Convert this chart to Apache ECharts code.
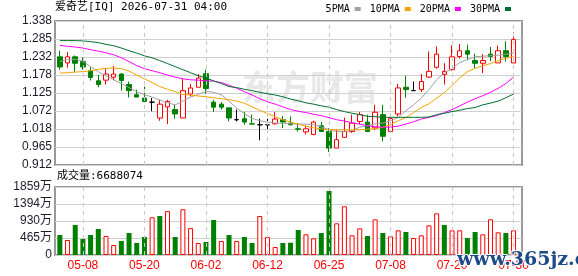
<!DOCTYPE html>
<html><head><meta charset="utf-8">
<script src="https://cdn.jsdelivr.net/npm/echarts@6/dist/echarts.min.js"></script>
<style>html,body{margin:0;padding:0;background:#fff}#c{width:578px;height:276px}</style>
</head><body><div id="c"></div>
<script>
const categories = ['05-05','05-06','05-07','05-08','05-11','05-12','05-13','05-14','05-15','05-18',
'05-19','05-20','05-21','05-22','05-26','05-27','05-28','05-29','06-01','06-02',
'06-03','06-04','06-05','06-08','06-09','06-10','06-11','06-12','06-15','06-16',
'06-17','06-18','06-22','06-23','06-24','06-25','06-26','06-29','06-30','07-01',
'07-02','07-06','07-07','07-08','07-09','07-10','07-13','07-14','07-15','07-16',
'07-17','07-20','07-21','07-22','07-23','07-24','07-27','07-28','07-29','07-30'];
const opens = [1.232,1.214,1.232,1.218,1.191,1.161,1.163,1.172,1.181,1.150,
1.120,1.110,1.098,1.051,1.084,1.076,1.051,1.122,1.142,1.182,
1.098,1.092,1.081,1.046,1.049,1.034,1.031,1.031,1.034,1.046,
1.036,1.019,1.010,1.002,1.028,1.011,0.962,0.994,1.011,1.041,
1.039,1.022,1.061,1.011,1.063,1.142,1.132,1.135,1.172,1.201,
1.180,1.194,1.233,1.250,1.221,1.213,1.240,1.214,1.250,1.214];
const closes = [1.202,1.232,1.213,1.202,1.171,1.150,1.181,1.181,1.162,1.132,
1.113,1.100,1.098,1.092,1.100,1.063,1.132,1.140,1.169,1.138,
1.083,1.083,1.051,1.046,1.039,1.033,1.031,1.031,1.048,1.039,
1.031,1.018,1.019,1.039,1.011,0.962,0.987,1.011,1.036,1.061,
1.011,1.068,0.997,1.049,1.140,1.135,1.132,1.159,1.189,1.240,
1.189,1.232,1.250,1.240,1.213,1.221,1.233,1.250,1.233,1.283];
const lows = [1.194,1.200,1.186,1.194,1.162,1.142,1.150,1.163,1.132,1.112,
1.113,1.098,1.071,1.043,1.033,1.049,1.051,1.115,1.142,1.123,
1.069,1.076,1.041,1.041,1.031,1.033,0.985,1.012,1.031,1.021,
1.029,1.011,1.002,1.000,1.011,0.950,0.962,0.992,1.007,1.033,
1.011,1.016,0.982,1.011,1.056,1.111,1.132,1.128,1.169,1.197,
1.150,1.191,1.227,1.222,1.199,1.184,1.219,1.214,1.218,1.214];
const highs = [1.250,1.246,1.236,1.230,1.201,1.179,1.199,1.205,1.184,1.159,
1.135,1.144,1.110,1.105,1.105,1.090,1.166,1.152,1.181,1.194,
1.105,1.098,1.081,1.076,1.069,1.061,1.049,1.049,1.069,1.057,
1.056,1.036,1.028,1.043,1.039,1.021,1.016,1.052,1.061,1.069,
1.061,1.090,1.090,1.061,1.152,1.176,1.159,1.181,1.248,1.263,
1.213,1.266,1.270,1.268,1.241,1.240,1.261,1.265,1.278,1.304];
const ma5 = [1.218,1.224,1.225,1.219,1.203,1.188,1.176,1.164,1.153,1.141,
1.129,1.120,1.113,1.104,1.096,1.090,1.101,1.113,1.121,1.130,
1.127,1.120,1.101,1.080,1.064,1.050,1.043,1.039,1.036,1.036,
1.034,1.033,1.033,1.031,1.025,1.016,1.011,1.011,1.014,1.024,
1.028,1.034,1.036,1.042,1.053,1.073,1.090,1.110,1.135,1.164,
1.185,1.197,1.215,1.224,1.232,1.234,1.235,1.237,1.240,1.243];
const ma10 = [1.184,1.185,1.187,1.188,1.191,1.195,1.198,1.199,1.197,1.190,
1.178,1.167,1.156,1.144,1.136,1.129,1.121,1.119,1.116,1.114,
1.111,1.108,1.105,1.101,1.095,1.084,1.074,1.064,1.055,1.046,
1.039,1.033,1.027,1.022,1.019,1.016,1.016,1.016,1.016,1.016,
1.018,1.019,1.024,1.031,1.043,1.052,1.067,1.082,1.093,1.110,
1.126,1.147,1.170,1.188,1.198,1.206,1.212,1.221,1.228,1.233];
const ma20 = [1.266,1.263,1.261,1.258,1.253,1.249,1.244,1.238,1.229,1.218,
1.206,1.197,1.191,1.185,1.178,1.172,1.167,1.164,1.163,1.161,
1.160,1.156,1.148,1.139,1.129,1.119,1.108,1.099,1.092,1.084,
1.076,1.071,1.067,1.062,1.058,1.052,1.046,1.042,1.037,1.033,
1.028,1.025,1.024,1.024,1.027,1.033,1.040,1.048,1.053,1.058,
1.067,1.076,1.087,1.098,1.108,1.117,1.127,1.139,1.153,1.172];
const ma30 = [1.280,1.280,1.280,1.279,1.277,1.274,1.269,1.265,1.258,1.250,
1.243,1.235,1.229,1.221,1.212,1.203,1.194,1.185,1.176,1.169,
1.161,1.153,1.144,1.141,1.136,1.132,1.127,1.123,1.119,1.114,
1.107,1.102,1.096,1.092,1.087,1.083,1.076,1.070,1.065,1.061,
1.056,1.055,1.053,1.053,1.053,1.053,1.053,1.053,1.054,1.061,
1.065,1.070,1.074,1.079,1.082,1.090,1.095,1.101,1.111,1.122];
// volume in 万
const volumes = [547,410,820,437,547,711,519,273,383,601,
328,492,1031,1066,1200,492,1252,735,328,355,
957,383,547,383,492,328,1066,492,219,328,
336,684,565,456,601,1750,866,1331,538,729,
519,975,601,510,674,629,465,538,811,1139,
820,674,674,465,629,565,975,620,601,674];
const volUp = [0,1,0,0,0,0,1,1,0,0, 0,0,1,0,1,0,1,1,1,0, 0,1,0,1,0,0,1,1,1,0,
0,0,1,1,0,0,1,1,1,1, 0,1,0,1,1,0,1,1,1,1, 0,1,1,0,0,1,1,1,0,1];
const priceTicks = ['0.912','0.965','1.018','1.072','1.125','1.178','1.232','1.285','1.338'];
const volTicks = ['0','465万','930万','1394万','1859万'];
const volMax = 1859;
const priceMin = 0.912, priceMax = 1.338;
const labelIdx = [3,11,19,27,35,43,51,59];

const RED = '#ff0000', GREEN = '#008000';
const chart = echarts.init(document.getElementById('c'), null, {renderer:'canvas'});
const vLines = labelIdx.map(i => ({xAxis: categories[i]}));
const markLineCfg = {silent:true, symbol:['none','none'], label:{show:false},
  lineStyle:{type:[4,4], color:'#c8c8c8', width:1}, data: vLines, animation:false};
const tickFont = {fontFamily:'Liberation Sans, Noto Sans CJK SC', fontSize:12, color:'#1a1a2a'};

chart.setOption({
  animation:false,
  backgroundColor:'#fff',
  title:{text:'爱奇艺[IQ] 2026-07-31 04:00', left:55, top:2, padding:0,
    textStyle:{fontFamily:'DejaVu Sans Mono, Noto Sans CJK SC', fontSize:11, fontWeight:'normal', color:'#000'}},
  legend:{right:67, top:4, padding:0, align:'right', icon:'rect', itemWidth:6, itemHeight:4, itemGap:9,
    textStyle:{fontFamily:'DejaVu Sans Mono', fontSize:10, color:'#000'},
    data:['5PMA','10PMA','20PMA','30PMA']},
  grid:[
    {left:56, top:21, width:461.4, height:144},
    {left:56, top:187, width:461.4, height:68},
    {left:55, top:21, width:467, height:144, show:true, borderColor:'#999', borderWidth:2, backgroundColor:'transparent'},
    {left:55, top:187, width:467, height:68, show:true, borderColor:'#999', borderWidth:2, backgroundColor:'transparent'}
  ],
  xAxis:[
    {type:'category', gridIndex:0, data:categories, boundaryGap:true, axisLine:{show:false}, axisTick:{show:false}, axisLabel:{show:false}, splitLine:{show:false}},
    {type:'category', gridIndex:1, data:categories, boundaryGap:true, axisLine:{show:false}, axisTick:{show:false},
      axisLabel:{interval:(i)=> i % 8 === 3, color:RED, fontFamily:'Liberation Sans', fontSize:12, margin:5}, splitLine:{show:false}},
    {type:'value', gridIndex:2, min:0, max:1, show:false},
    {type:'value', gridIndex:3, min:0, max:1, show:false}
  ],
  yAxis:[
    {type:'value', gridIndex:0, min:priceMin, max:priceMax, show:false},
    {type:'value', gridIndex:1, min:0, max:volMax, show:false},
    {type:'value', gridIndex:2, min:0, max:8, interval:1, axisLine:{show:false}, axisTick:{show:false},
      axisLabel:Object.assign({formatter:(v)=>priceTicks[v], margin:3}, tickFont),
      splitLine:{lineStyle:{color:'#d0d0d0', width:1}}},
    {type:'value', gridIndex:3, min:0, max:4, interval:1, axisLine:{show:false}, axisTick:{show:false},
      axisLabel:Object.assign({formatter:(v)=>volTicks[v], margin:3}, tickFont),
      splitLine:{lineStyle:{color:'#d0d0d0', width:1}}}
  ],
  graphic:[
    {type:'text', left:242, top:70, z:0, silent:true,
      style:{text:'东方财富', font:'bold 34px "Noto Sans CJK SC"', fill:'#e8e8e8'}},
    {type:'text', left:57, top:171, silent:true,
      style:{text:'成交量:6688074', font:'11px "DejaVu Sans Mono", "Noto Sans CJK SC"', fill:'#000'}},
    {type:'text', left:456, top:250, z:100, silent:true,
      style:{text:'www.365jz.com', font:'bold 19px "DejaVu Serif"', fill:'#1c4a86', stroke:'#fff', lineWidth:2}}
  ],
  series:[
    {type:'candlestick', name:'K', xAxisIndex:0, yAxisIndex:0, barWidth:5, z:3,
      data: categories.map((_, i) => [opens[i], closes[i], lows[i], highs[i]]),
      itemStyle:{color:'#ffffff', color0:GREEN, borderColor:RED, borderColor0:GREEN, borderColorDoji:'#000', borderWidth:1}},
    {type:'line', name:'5PMA', xAxisIndex:0, yAxisIndex:0, data:ma5, showSymbol:false, z:4, color:'#a0a0a0', lineStyle:{width:1, color:'#a0a0a0'}},
    {type:'line', name:'10PMA', xAxisIndex:0, yAxisIndex:0, data:ma10, showSymbol:false, z:4, color:'#f5a300', lineStyle:{width:1, color:'#f5a300'}},
    {type:'line', name:'20PMA', xAxisIndex:0, yAxisIndex:0, data:ma20, showSymbol:false, z:4, color:'#ff00ff', lineStyle:{width:1, color:'#ff00ff'}},
    {type:'line', name:'30PMA', xAxisIndex:0, yAxisIndex:0, data:ma30, showSymbol:false, z:4, color:'#00702e', lineStyle:{width:1, color:'#00702e'},
      markLine: markLineCfg},
    {type:'bar', name:'VOL', xAxisIndex:1, yAxisIndex:1, barWidth:5, z:3,
      data: volumes.map((v, i) => ({value:v, itemStyle: volUp[i] ? {color:'#ffffff', borderColor:RED, borderWidth:1} : {color:GREEN, borderColor:GREEN, borderWidth:0}})),
      markLine: markLineCfg}
  ]
});
</script></body></html>
